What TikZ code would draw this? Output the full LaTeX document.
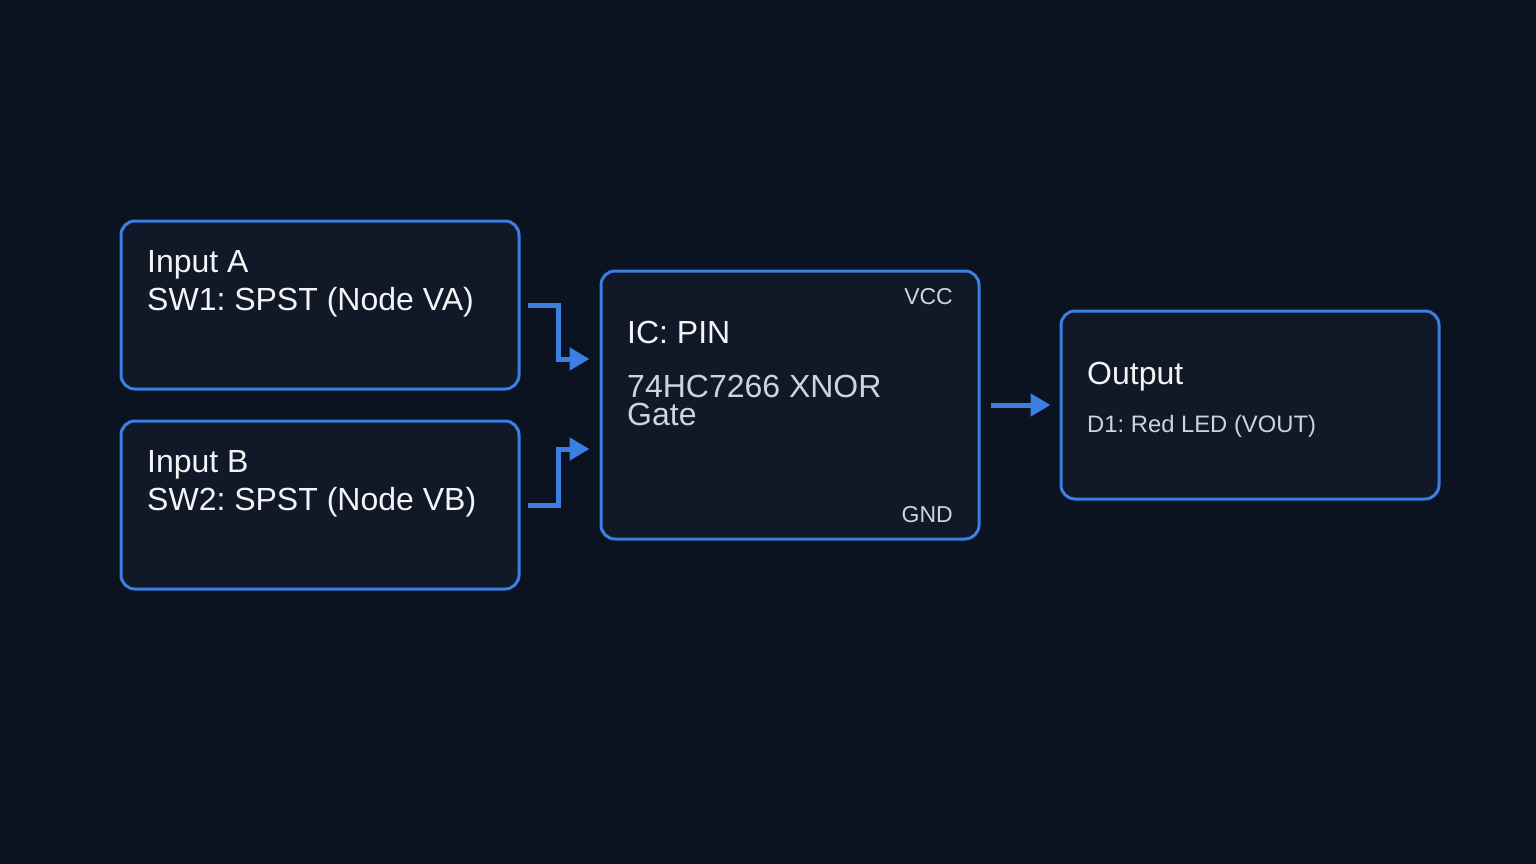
\documentclass[tikz,border=0pt]{standalone}
\usepackage{fontspec}
\setmainfont{Liberation Sans}
\usetikzlibrary{arrows.meta}
\frenchspacing
\definecolor{bg}{HTML}{0B1220}
\definecolor{boxfill}{HTML}{111827}
\definecolor{edge}{HTML}{3B7FE3}
\definecolor{titletext}{HTML}{F3F4F6}
\definecolor{subtext}{HTML}{CBD5E1}
\tikzset{
  blk/.style={draw=edge, fill=boxfill, line width=3pt, rounded corners=14pt, inner sep=0pt},
  ttl/.style={anchor=base west, inner sep=0pt, text=titletext, font=\fontsize{32}{36}\selectfont},
  sub/.style={anchor=base west, inner sep=0pt, text=subtext, font=\fontsize{32}{36}\selectfont},
  small/.style={anchor=base west, inner sep=0pt, text=subtext, font=\fontsize{23.8}{28}\selectfont},
  smallr/.style={anchor=base east, inner sep=0pt, text=subtext, font=\fontsize{23}{28}\selectfont},
  conn/.style={draw=edge, line width=5pt, -{Triangle[length=20pt,width=22pt]}},
}
\begin{document}
\begin{tikzpicture}[x=1pt,y=-1pt]
\fill[bg] (0,0) rectangle (1536,864);
\useasboundingbox (0,0) rectangle (1536,864);

\node[blk, minimum width=398pt, minimum height=168pt] (A) at (320,305) {};
\node[blk, minimum width=398pt, minimum height=168pt] (B) at (320,505) {};
\node[blk, minimum width=378pt, minimum height=268pt] (IC) at (790,405) {};
\node[blk, minimum width=378pt, minimum height=188pt] (OUT) at (1250,405) {};

\node[ttl] (a1) at (147,272) {Input A};
\node[ttl] (a2) at (147,310) {SW1: SPST (Node VA)};
\node[ttl] (b1) at (147,472) {Input B};
\node[ttl] (b2) at (147,510) {SW2: SPST (Node VB)};

\node[ttl] (ic1) at (627,343) {IC: PIN};
\node[sub] (ic2) at (627,397) {74HC7266 XNOR};
\node[sub] (ic3) at (627,425) {Gate};
\node[smallr] (vcc) at (953,304) {VCC};
\node[smallr] (gnd) at (953,522) {GND};

\node[ttl] (o1) at (1087,384) {Output};
\node[small] (o2) at (1087,432) {D1: Red LED (VOUT)};

\draw[conn] ([xshift=7pt]A.east) -- ++(31,0) |- ([xshift=-10pt,yshift=46pt]IC.west);
\draw[conn] ([xshift=7pt]B.east) -- ++(31,0) |- ([xshift=-10pt,yshift=-44pt]IC.west);
\draw[conn] ([xshift=10pt]IC.east) -- ([xshift=-9pt]OUT.west);
\end{tikzpicture}
\end{document}
